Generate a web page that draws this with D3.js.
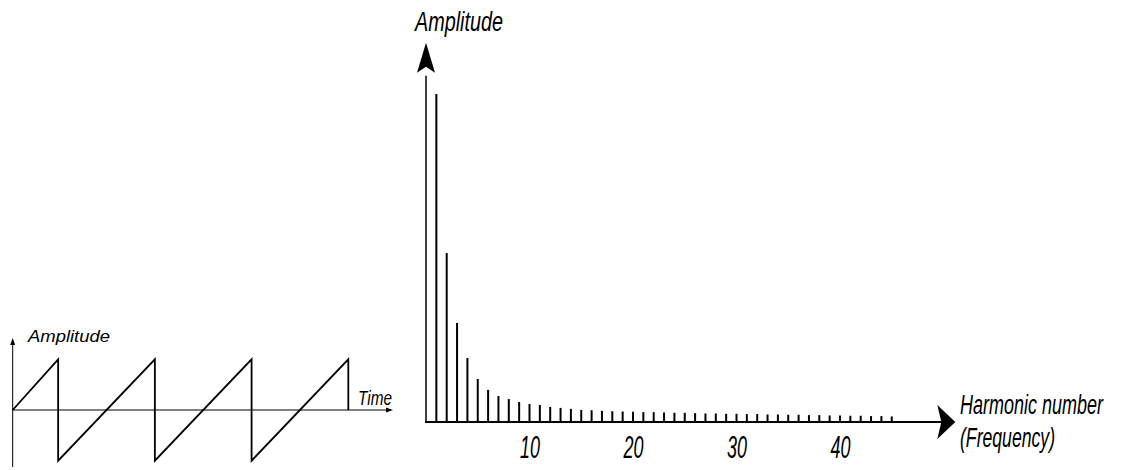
<!DOCTYPE html>
<html><head><meta charset="utf-8">
<script src="https://cdn.jsdelivr.net/npm/d3@7"></script>
<style>
body{margin:0;background:#fff}
svg{display:block}
text{font-family:"Liberation Sans",Arial,Helvetica,sans-serif;font-style:italic;fill:#000}
</style>
</head><body>
<svg id="c" width="1121" height="470"></svg>
<script>
// ---- Data ----
// Harmonic amplitudes (relative to fundamental), harmonics 1..45
const amplitudes = [1.0,0.515,0.302,0.195,0.131,0.098,0.079,0.070,0.061,0.055,
  0.052,0.046,0.043,0.040,0.037,0.036,0.034,0.033,0.032,0.031,
  0.030,0.030,0.029,0.028,0.028,0.027,0.026,0.026,0.025,0.025,
  0.024,0.024,0.023,0.023,0.022,0.022,0.021,0.021,0.020,0.020,
  0.019,0.019,0.018,0.018,0.017];
const tickLabels = [10, 20, 30, 40];
// Sawtooth waveform (time in periods, value in peak amplitude)
const sawTime  = [0, 0.47, 0.47, 1.47, 1.47, 2.47, 2.47, 3.47, 3.47];
const sawValue = [0, 1, -1, 1, -1, 1, -1, 1, 0];
const mainYLabel = "Amplitude";
const mainXLabel1 = "Harmonic number";
const mainXLabel2 = "(Frequency)";
const smallYLabel = "Amplitude";
const smallXLabel = "Time";

const svg = d3.select("#c");
svg.append("rect").attr("width",1121).attr("height",470).attr("fill","#fff");

// stretched text helper (condensed look)
function label(sel, str, px, py, size, len, sy){
  return sel.append("text")
    .attr("transform",`translate(${px},${py}) scale(1,${sy})`)
    .attr("font-size",size)
    .attr("textLength",len).attr("lengthAdjust","spacingAndGlyphs")
    .text(str);
}

// ---- Main spectrum ----
const x = d3.scaleLinear().domain([0, 45]).range([426, 891.75]);
const y = d3.scaleLinear().domain([0, 1]).range([422, 94]);
const g = svg.append("g");

g.selectAll("line.h").data(amplitudes).join("line")
  .attr("class","h")
  .attr("x1",(d,i)=>x(i+1)).attr("x2",(d,i)=>x(i+1))
  .attr("y1",y(0)).attr("y2",d=>y(d))
  .attr("stroke","#000").attr("stroke-width",2);

const yAxisTop = y(1.068);
const xAxisEnd = x(49.5);
g.append("line").attr("x1",x(0)).attr("x2",x(0)).attr("y1",y(0)+1).attr("y2",yAxisTop+4)
  .attr("stroke","#000").attr("stroke-width",1.5);
g.append("line").attr("x1",x(0)-1).attr("x2",xAxisEnd+4).attr("y1",y(0)).attr("y2",y(0))
  .attr("stroke","#000").attr("stroke-width",1.8);
const ax = x(0), ay = yAxisTop;
g.append("path").attr("d",`M${ax},${ay-29} L${ax+9},${ay+1} L${ax},${ay-5} L${ax-9},${ay+1} Z`).attr("fill","#000");
const bx = xAxisEnd, by = y(0);
g.append("path").attr("d",`M${bx+17},${by} L${bx-1},${by-17} L${bx+3},${by} L${bx-1},${by+17} Z`).attr("fill","#000");

const xAxis = d3.axisBottom(x).tickValues(tickLabels).tickSize(0).tickFormat(d3.format("d"));
const axG = g.append("g").attr("transform",`translate(0,${y(0)})`).call(xAxis);
axG.select(".domain").remove();
axG.selectAll("text")
  .attr("dy",null).attr("y",36/1.72)
  .attr("transform","scale(1,1.72)")
  .attr("font-size",18)
  .attr("font-family","Liberation Sans, Arial, sans-serif")
  .attr("font-style","italic")
  .attr("textLength",20).attr("lengthAdjust","spacingAndGlyphs");

label(g, mainYLabel, 415, 31, 20, 88, 1.42);
label(g, mainXLabel1, 960, 414, 18, 143, 1.52);
label(g, mainXLabel2, 960, 447, 18, 95, 1.52);

// ---- Small sawtooth ----
const sx = d3.scaleLinear().domain([0, 3.47]).range([12.7, 348.3]);
const sy = d3.scaleLinear().domain([-1, 1]).range([460.7, 359.3]);
const s = svg.append("g");
s.append("line").attr("x1",sx(0)).attr("x2",sx(0)).attr("y1",467).attr("y2",343)
  .attr("stroke","#000").attr("stroke-width",1);
s.append("path").attr("d",`M${sx(0)},${338} L${sx(0)+2.5},${345} L${sx(0)-2.5},${345} Z`).attr("fill","#000");
s.append("line").attr("x1",sx(0)).attr("x2",388).attr("y1",sy(0)).attr("y2",sy(0))
  .attr("stroke","#000").attr("stroke-width",1);
s.append("path").attr("d",`M393,${sy(0)} L386,${sy(0)-2.5} L386,${sy(0)+2.5} Z`).attr("fill","#000");
const pts = sawTime.map((t,i)=>[t,sawValue[i]]);
s.append("path").datum(pts)
  .attr("d", d3.line().x(d=>sx(d[0])).y(d=>sy(d[1])))
  .attr("fill","none").attr("stroke","#000").attr("stroke-width",1.8)
  .attr("stroke-linejoin","miter");
label(s, smallYLabel, 28, 342, 17, 82, 1.0);
label(s, smallXLabel, 358, 405, 16, 34, 1.3);
</script>
</body></html>
